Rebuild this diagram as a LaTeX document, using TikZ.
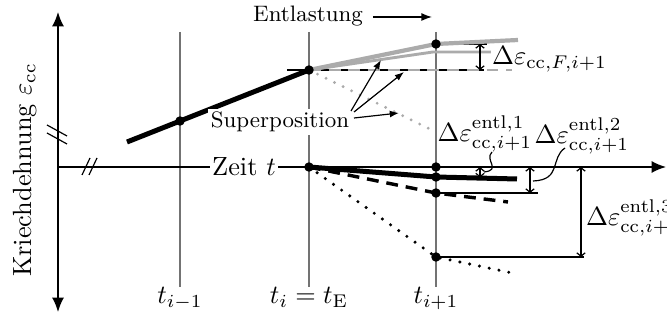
\documentclass[tikz,border=0pt]{standalone}
\usetikzlibrary{arrows.meta}
\begin{document}
\begin{tikzpicture}[x=0.38pt,y=-0.38pt,
  axis/.style={line width=0.6pt},
  tline/.style={line width=0.75pt, draw=black!55},
  blackthick/.style={line width=1.9pt},
  graythick/.style={line width=1.6pt, draw=black!33},
  graythin/.style={line width=1.1pt, draw=black!33},
  graydash/.style={line width=1.1pt, draw=black!33, dash pattern=on 4.5pt off 3pt},
  graydot/.style={line width=1.2pt, draw=black!33, line cap=round, dash pattern=on 0pt off 3.6pt},
  blackdash/.style={line width=1.3pt, dash pattern=on 4.5pt off 3pt},
  blackdot/.style={line width=1.3pt, line cap=round, dash pattern=on 0pt off 3.8pt},
  thinline/.style={line width=0.45pt},
  dimline/.style={line width=0.45pt, {Straight Barb[length=1.3pt,width=3.2pt]}-{Straight Barb[length=1.3pt,width=3.2pt]}},
  dotnode/.style={circle, fill=black, inner sep=0pt, minimum size=3.6pt},
  smalltext/.style={font=\fontsize{8.5}{10}\selectfont},
  pointer/.style={line width=0.45pt, -{Latex[length=3.5pt,width=2.6pt]}},
]
\useasboundingbox (0,0) rectangle (667,324);

% time lines
\coordinate (a1) at (180,32); \coordinate (a2) at (180,287);
\coordinate (b1) at (309,32); \coordinate (b2) at (309,287);
\coordinate (c1) at (436,32); \coordinate (c2) at (436,287);
\draw[tline] (a1) -- (a2);
\draw[tline] (b1) -- (b2);
\draw[tline] (c1) -- (c2);

% axes
\coordinate (ytop) at (58,12); \coordinate (ybot) at (58,312);
\coordinate (xo) at (58,167); \coordinate (xend) at (666,167);
\draw[axis,{Latex[length=5.5pt,width=4.6pt]}-{Latex[length=5.5pt,width=4.6pt]}] (ytop) -- (ybot);
\draw[axis,-{Latex[length=5.5pt,width=4.6pt]}] (xo) -- (xend);
% break marks
\coordinate (v1a) at (47,125); \coordinate (v1b) at (67,136);
\coordinate (v2a) at (47,133); \coordinate (v2b) at (67,144);
\draw[thinline] (v1a) -- (v1b);
\draw[thinline] (v2a) -- (v2b);
\coordinate (h1a) at (82,175); \coordinate (h1b) at (90,158);
\coordinate (h2a) at (89,175); \coordinate (h2b) at (97,158);
\draw[thinline] (h1a) -- (h1b);
\draw[thinline] (h2a) -- (h2b);

\node[fill=white, inner sep=1pt] (zeit) at (244,167) {Zeit $t$};
\node[rotate=90] (ylab) at (25,170) {Kriechdehnung $\varepsilon_{\mathrm{cc}}$};

\node[anchor=base] (ta) at (180,304) {$t_{i-1}$};
\node[anchor=base] (tb) at (309,304) {$t_i=t_{\mathrm{E}}$};
\node[anchor=base] (tc) at (436,304) {$t_{i+1}$};

% upper part
\coordinate (s0) at (127,142);
\coordinate (pE) at (309,70);
\coordinate (hl) at (287,70); \coordinate (hr) at (484,70);
\coordinate (gdEnd) at (512,70);
\coordinate (gdot) at (436,132);
\coordinate (gk) at (436,44); \coordinate (gkEnd) at (518,40);
\coordinate (gt) at (433,52); \coordinate (gtEnd) at (491,52);
\coordinate (kr) at (487,44);
\coordinate (dFt) at (480,44); \coordinate (dFb) at (480,70);

\draw[graydot] (pE) -- (gdot);
\draw[thinline] (hl) -- (hr);
\draw[graydash] (pE) -- (gdEnd);
\draw[thinline] (gk) -- (kr);
\draw[graythin] (pE) -- (gt) -- (gtEnd);
\draw[graythick] (pE) -- (gk) -- (gkEnd);
\draw[dimline] (dFt) -- (dFb);
\node[anchor=west, inner sep=1pt] (dF) at (489,59) {$\Delta\varepsilon_{\mathrm{cc},F,i+1}$};

\draw[blackthick] (s0) -- (pE);
\node[dotnode] (n1) at (180,121) {};
\node[dotnode] (n2) at (pE) {};
\node[dotnode] (n3) at (gk) {};

% labels top
\node[smalltext] (ent) at (308,16) {Entlastung};
\coordinate (ea) at (373,17); \coordinate (eb) at (432,17);
\draw[line width=0.5pt, -{Latex[length=4pt,width=3pt]}] (ea) -- (eb);

\node[smalltext, fill=white, inner sep=1pt] (sup) at (280,122) {Superposition};
\coordinate (p1s) at (351,111); \coordinate (p1e) at (381,60);
\coordinate (p2s) at (354,112); \coordinate (p2e) at (404,72);
\coordinate (p3s) at (354,118); \coordinate (p3e) at (399,113);
\draw[pointer] (p1s) -- (p1e);
\draw[pointer] (p2s) -- (p2e);
\draw[pointer] (p3s) -- (p3e);

% lower part
\coordinate (q0) at (309,167);
\coordinate (q1) at (436,177); \coordinate (q1e) at (517,179);
\coordinate (q2) at (436,193); \coordinate (q2e) at (508,202);
\coordinate (q3) at (436,257); \coordinate (q3e) at (517,274);
\coordinate (q2x) at (538,193);
\coordinate (q3x) at (584,257);

\draw[thinline] (q2) -- (q2x);
\draw[thinline] (q3) -- (q3x);
\draw[blackdot] (q0) -- (q3) -- (q3e);
\draw[blackdash] (q0) -- (q2) -- (q2e);
\draw[blackthick] (q0) -- (q1) -- (q1e);

\coordinate (d1t) at (480,167); \coordinate (d1b) at (480,177.5);
\coordinate (d2t) at (530,167); \coordinate (d2b) at (530,193);
\coordinate (d3t) at (581,167); \coordinate (d3b) at (581,257);
\draw[dimline] (d1t) -- (d1b);
\draw[dimline] (d2t) -- (d2b);
\draw[dimline] (d3t) -- (d3b);

\node[dotnode] (m0) at (q0) {};
\node[dotnode] (m1) at (436,167) {};
\node[dotnode] (m2) at (q1) {};
\node[dotnode] (m3) at (q2) {};
\node[dotnode] (m4) at (q3) {};

\node (d1) at (485,134) {$\Delta\varepsilon^{\mathrm{entl},1}_{\mathrm{cc},i+1}$};
\node (d2) at (582,136) {$\Delta\varepsilon^{\mathrm{entl},2}_{\mathrm{cc},i+1}$};
\node[anchor=west, inner sep=1pt] (d3) at (583,218) {$\Delta\varepsilon^{\mathrm{entl},3}_{\mathrm{cc},i+1}$};

\coordinate (l1s) at (484,172); \coordinate (l1e) at (492,152);
\coordinate (l2s) at (533,181); \coordinate (l2e) at (565,148);
\draw[thinline] (l1s) .. controls (502,170) and (484,160) .. (l1e);
\draw[thinline] (l2s) .. controls (562,180) and (550,158) .. (l2e);
\end{tikzpicture}
\end{document}
